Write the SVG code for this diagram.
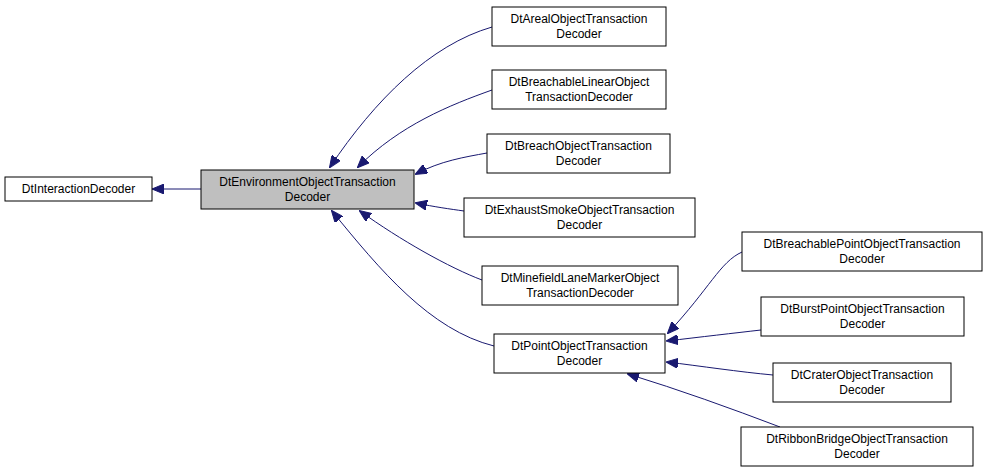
<svg xmlns="http://www.w3.org/2000/svg" width="987" height="475" viewBox="0 0 987 475">
<style>
.n rect{fill:#fff;stroke:#000;stroke-width:1}
.n text{font-family:"Liberation Sans",Arial,sans-serif;font-size:12px;text-anchor:middle;fill:#000}
.e path{fill:none;stroke:#191970;stroke-width:1;marker-end:url(#a)}
</style>
<defs><marker id="a" markerWidth="12" markerHeight="10" refX="11" refY="5" orient="auto" markerUnits="userSpaceOnUse"><path d="M0,0 L12,5 L0,10 Z" fill="#191970" stroke="#191970"/></marker></defs>
<rect width="987" height="475" fill="#fff"/>
<g class="e">
<path d="M201,189 L153,189"/>
<path d="M492,27 C430,45 375,100 330,167"/>
<path d="M492,90 C450,105 400,125 358,167"/>
<path d="M487,153 C465,157 440,161 416,174"/>
<path d="M464,211 C450,209 435,207 416,203"/>
<path d="M482,280 C450,268 400,240 360,211"/>
<path d="M494,346 C430,330 380,270 332,211"/>
<path d="M742,252 C720,262 710,288 668,333"/>
<path d="M761,330 C735,333 700,337 667,341"/>
<path d="M773,375 C740,372 700,366 667,362"/>
<path d="M780,427 C730,408 680,390 628,374"/>
</g>
<g id="n0" class="n"><rect x="5" y="177" width="147" height="24"/><text x="78.5" y="193">DtInteractionDecoder</text></g>
<g id="n1" class="n"><rect x="201" y="170" width="213" height="39" style="fill:#bfbfbf"/><text x="307.5" y="186">DtEnvironmentObjectTransaction</text><text x="307.5" y="201">Decoder</text></g>
<g id="n2" class="n"><rect x="492" y="7" width="174" height="39"/><text x="579" y="23">DtArealObjectTransaction</text><text x="579" y="38">Decoder</text></g>
<g id="n3" class="n"><rect x="492" y="70" width="174" height="39"/><text x="579" y="86">DtBreachableLinearObject</text><text x="579" y="101">TransactionDecoder</text></g>
<g id="n4" class="n"><rect x="487" y="134" width="183" height="39"/><text x="578.5" y="150">DtBreachObjectTransaction</text><text x="578.5" y="165">Decoder</text></g>
<g id="n5" class="n"><rect x="464" y="198" width="231" height="39"/><text x="579.5" y="214">DtExhaustSmokeObjectTransaction</text><text x="579.5" y="229">Decoder</text></g>
<g id="n6" class="n"><rect x="482" y="266" width="196" height="39"/><text x="580" y="282">DtMinefieldLaneMarkerObject</text><text x="580" y="297">TransactionDecoder</text></g>
<g id="n7" class="n"><rect x="494" y="334" width="171" height="39"/><text x="579.5" y="350">DtPointObjectTransaction</text><text x="579.5" y="365">Decoder</text></g>
<g id="n8" class="n"><rect x="742" y="232" width="240" height="39"/><text x="862" y="248">DtBreachablePointObjectTransaction</text><text x="862" y="263">Decoder</text></g>
<g id="n9" class="n"><rect x="761" y="297" width="203" height="39"/><text x="862.5" y="313">DtBurstPointObjectTransaction</text><text x="862.5" y="328">Decoder</text></g>
<g id="n10" class="n"><rect x="773" y="363" width="178" height="39"/><text x="862" y="379">DtCraterObjectTransaction</text><text x="862" y="394">Decoder</text></g>
<g id="n11" class="n"><rect x="741" y="427" width="232" height="39"/><text x="857" y="443">DtRibbonBridgeObjectTransaction</text><text x="857" y="458">Decoder</text></g>
</svg>
